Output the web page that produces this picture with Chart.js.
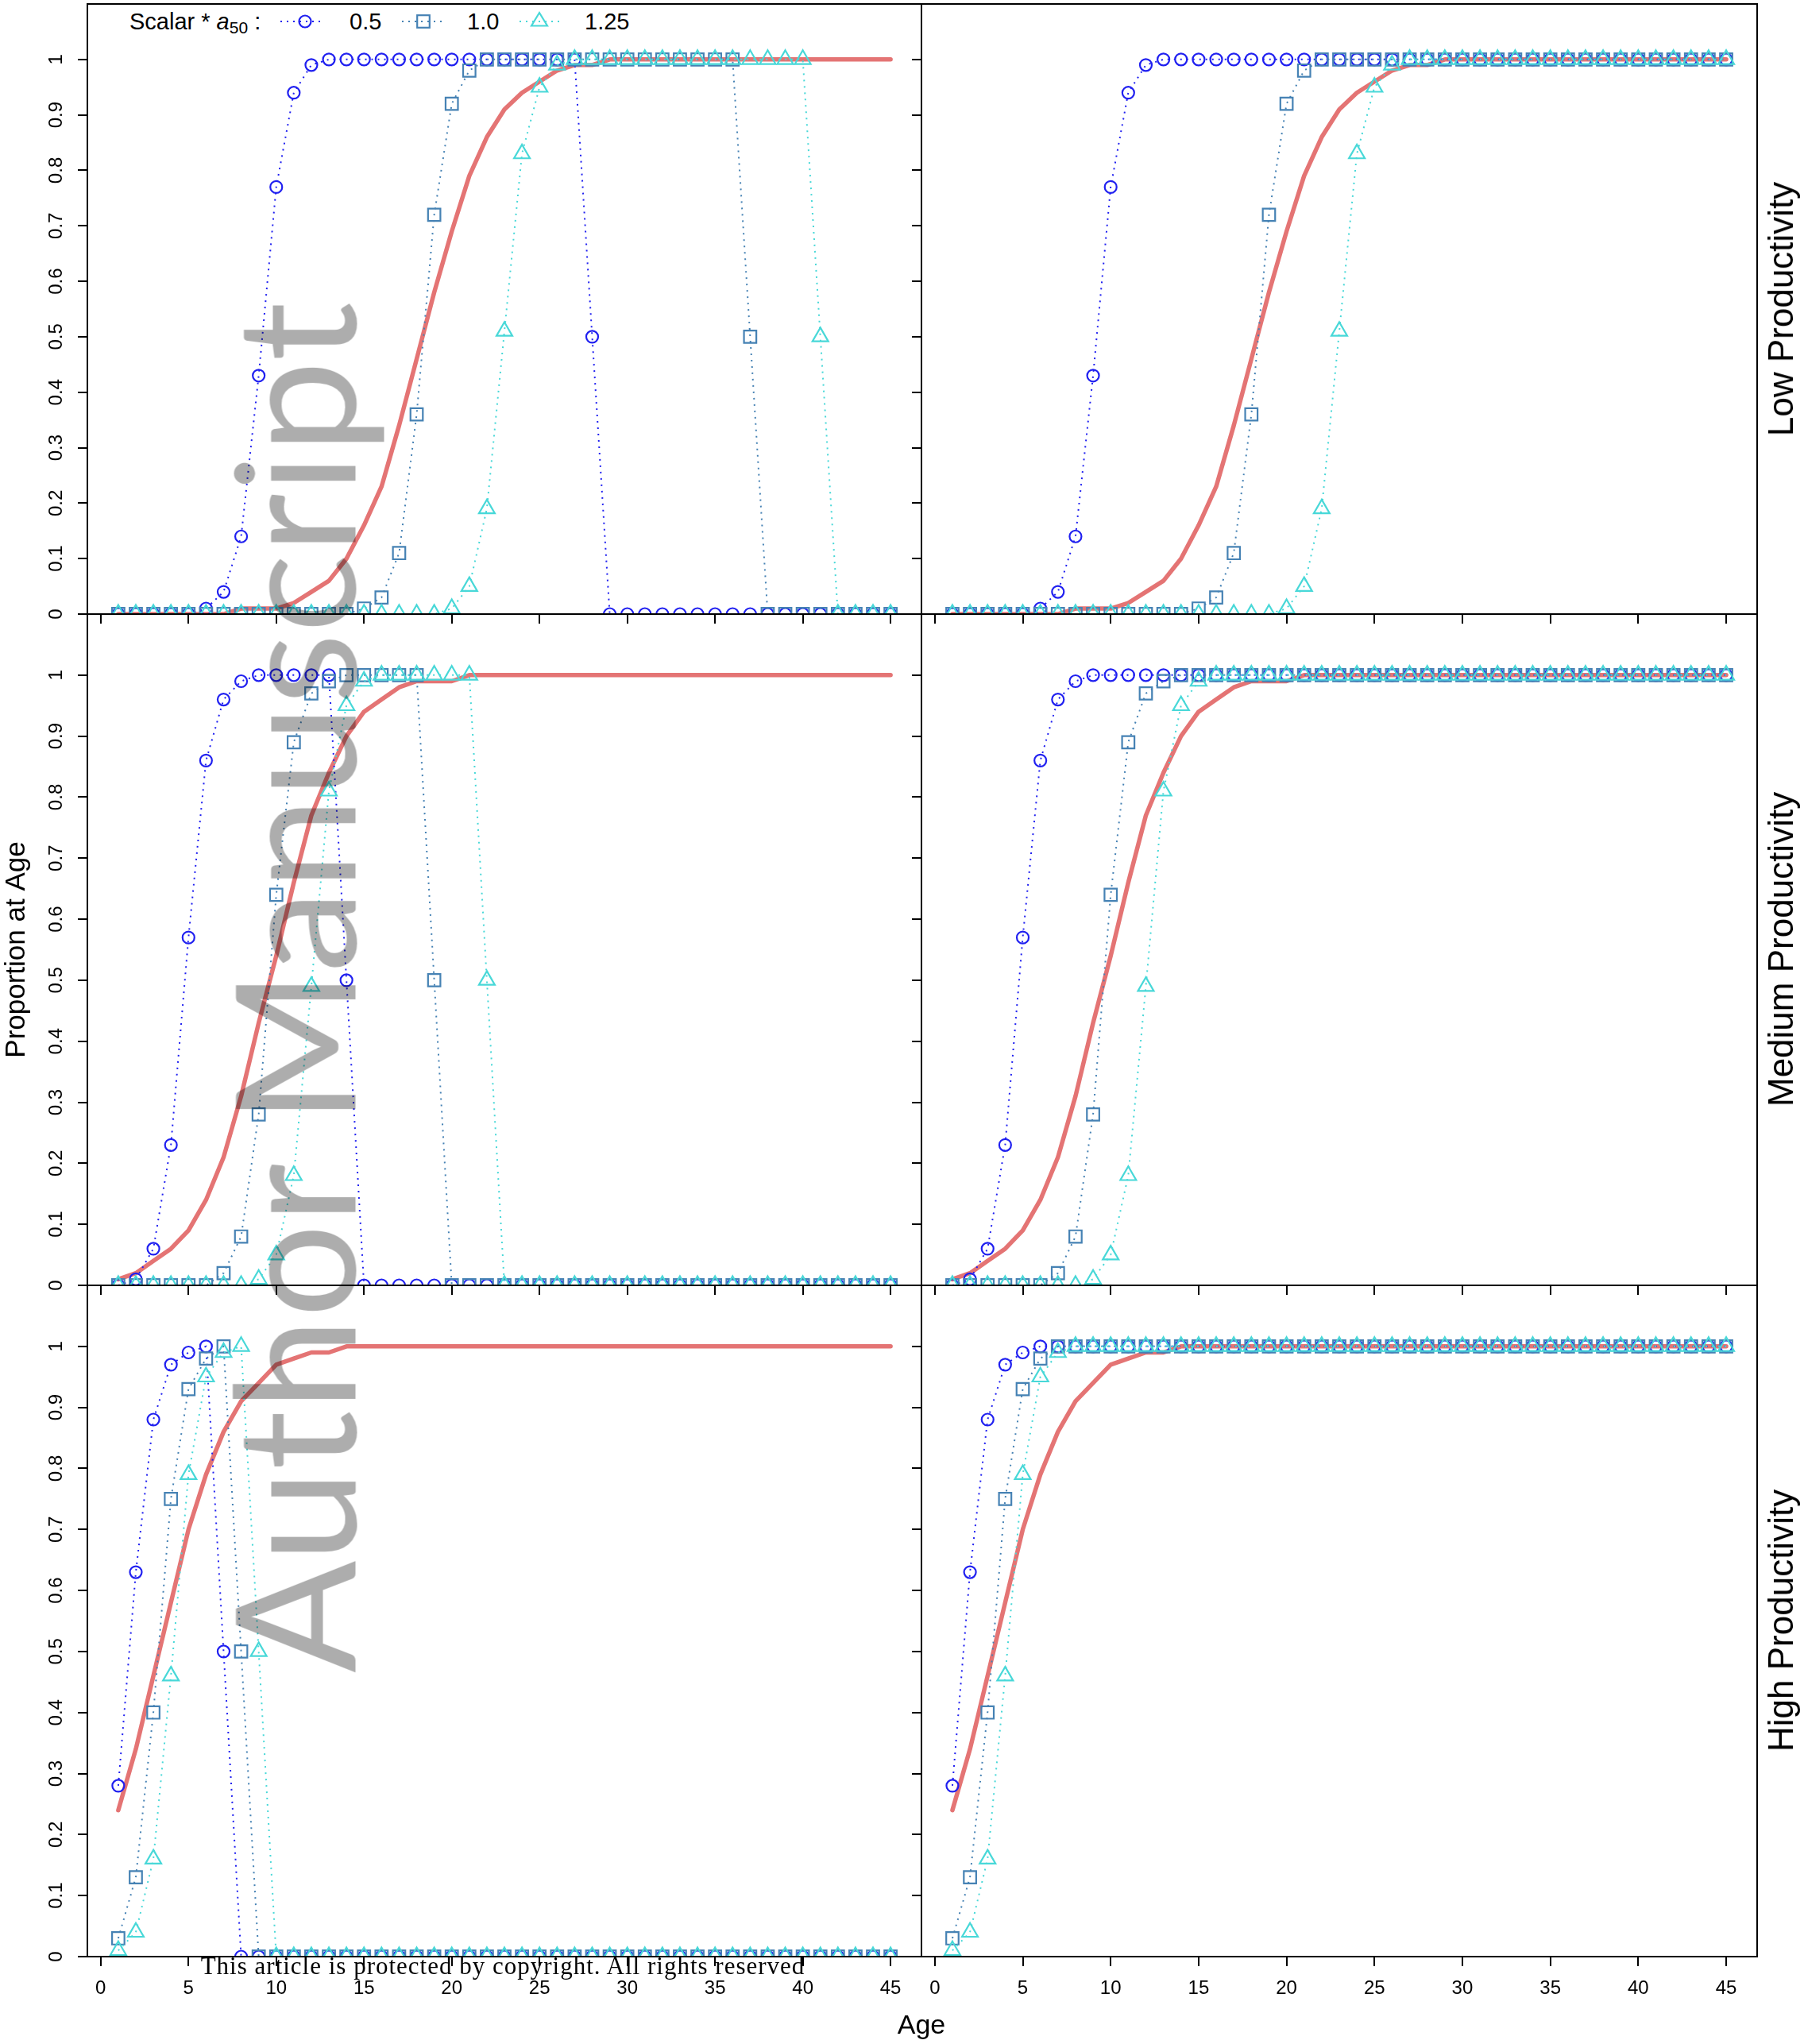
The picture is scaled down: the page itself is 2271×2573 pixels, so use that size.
<!DOCTYPE html>
<html>
<head>
<meta charset="utf-8">
<script src="https://cdn.jsdelivr.net/npm/chart.js@4.4.1/dist/chart.umd.min.js"></script>
<style>
  body { margin: 0; width: 2271px; height: 2573px; position: relative; overflow: hidden; background: #fff;
         font-family: 'Liberation Sans', Arial, sans-serif; color: #000; }
  canvas { position: absolute; }
  .txt { position: absolute; white-space: nowrap; line-height: 1; }
  .rowlab { font-size: 44px; transform: translate(-50%, -50%) rotate(-90deg); }
  .leg { font-size: 29px; top: 13px; }
</style>
</head>
<body>

<div class="txt leg" style="left:163px">Scalar * <i>a</i><span style="font-size:21px;position:relative;top:5px">50</span> :</div>
<svg style="position:absolute;left:352px;top:12px" width="58" height="30">
  <line x1="1" y1="15" x2="56" y2="15" stroke="#2020f0" stroke-width="2" stroke-dasharray="2 6"/>
  <circle cx="32" cy="15" r="7.5" fill="none" stroke="#2020f0" stroke-width="2.2"/>
</svg>
<div class="txt leg" style="left:440px">0.5</div>
<svg style="position:absolute;left:505px;top:12px" width="56" height="30">
  <line x1="1" y1="15" x2="53" y2="15" stroke="#4682b4" stroke-width="2" stroke-dasharray="2 6"/>
  <rect x="20.2" y="7.2" width="15.6" height="15.6" fill="none" stroke="#4682b4" stroke-width="2.2"/>
</svg>
<div class="txt leg" style="left:588px">1.0</div>
<svg style="position:absolute;left:653px;top:12px" width="56" height="30">
  <line x1="1" y1="15" x2="51" y2="15" stroke="#48d8d8" stroke-width="2" stroke-dasharray="2 6"/>
  <polygon points="26,4 36,20.5 16,20.5" fill="none" stroke="#48d8d8" stroke-width="2.2"/>
</svg>
<div class="txt leg" style="left:736px">1.25</div>

<script>
// ages on the x axis
var ages = [1, 2, 3, 4, 5, 6, 7, 8, 9, 10, 11, 12, 13, 14, 15, 16, 17, 18, 19, 20, 21, 22, 23,
            24, 25, 26, 27, 28, 29, 30, 31, 32, 33, 34, 35, 36, 37, 38, 39, 40, 41, 42, 43, 44, 45];
var ageTicks = [0, 5, 10, 15, 20, 25, 30, 35, 40, 45];
var propTicks = [0, 0.1, 0.2, 0.3, 0.4, 0.5, 0.6, 0.7, 0.8, 0.9, 1];
var rowNames = ['Low Productivity', 'Medium Productivity', 'High Productivity'];

// low productivity
var lowMat = [0, 0, 0, 0, 0, 0, 0, 0.01, 0.01, 0.01,
  0.02, 0.04, 0.06, 0.10, 0.16, 0.23, 0.34, 0.46, 0.58, 0.69,
  0.79, 0.86, 0.91, 0.94, 0.96, 0.98, 0.99, 0.99, 1, 1,
  1, 1, 1, 1, 1, 1, 1, 1, 1, 1,
  1, 1, 1, 1, 1];
var lowFull05 = [0, 0, 0, 0, 0, 0.01, 0.04, 0.14, 0.43, 0.77,
  0.94, 0.99, 1, 1, 1, 1, 1, 1, 1, 1,
  1, 1, 1, 1, 1, 1, 1, 1, 1, 1,
  1, 1, 1, 1, 1, 1, 1, 1, 1, 1,
  1, 1, 1, 1, 1];
var lowCut05 = [0, 0, 0, 0, 0, 0.01, 0.04, 0.14, 0.43, 0.77,
  0.94, 0.99, 1, 1, 1, 1, 1, 1, 1, 1,
  1, 1, 1, 1, 1, 1, 1, 0.5, 0, 0,
  0, 0, 0, 0, 0, 0, 0, 0, 0, 0,
  0, 0, 0, 0, 0];
var lowFull10 = [0, 0, 0, 0, 0, 0, 0, 0, 0, 0,
  0, 0, 0, 0, 0.01, 0.03, 0.11, 0.36, 0.72, 0.92,
  0.98, 1, 1, 1, 1, 1, 1, 1, 1, 1,
  1, 1, 1, 1, 1, 1, 1, 1, 1, 1,
  1, 1, 1, 1, 1];
var lowCut10 = [0, 0, 0, 0, 0, 0, 0, 0, 0, 0,
  0, 0, 0, 0, 0.01, 0.03, 0.11, 0.36, 0.72, 0.92,
  0.98, 1, 1, 1, 1, 1, 1, 1, 1, 1,
  1, 1, 1, 1, 1, 1, 0.5, 0, 0, 0,
  0, 0, 0, 0, 0];
var lowFull125 = [0, 0, 0, 0, 0, 0, 0, 0, 0, 0,
  0, 0, 0, 0, 0, 0, 0, 0, 0, 0.01,
  0.05, 0.19, 0.51, 0.83, 0.95, 0.99, 1, 1, 1, 1,
  1, 1, 1, 1, 1, 1, 1, 1, 1, 1,
  1, 1, 1, 1, 1];
var lowCut125 = [0, 0, 0, 0, 0, 0, 0, 0, 0, 0,
  0, 0, 0, 0, 0, 0, 0, 0, 0, 0.01,
  0.05, 0.19, 0.51, 0.83, 0.95, 0.99, 1, 1, 1, 1,
  1, 1, 1, 1, 1, 1, 1, 1, 1, 1,
  0.5, 0, 0, 0, 0];

// medium productivity
var medMat = [0.01, 0.02, 0.04, 0.06, 0.09, 0.14, 0.21, 0.31, 0.43, 0.54,
  0.66, 0.77, 0.84, 0.90, 0.94, 0.96, 0.98, 0.99, 0.99, 0.99,
  1, 1, 1, 1, 1, 1, 1, 1, 1, 1,
  1, 1, 1, 1, 1, 1, 1, 1, 1, 1,
  1, 1, 1, 1, 1];
var medFull05 = [0, 0.01, 0.06, 0.23, 0.57, 0.86, 0.96, 0.99, 1, 1,
  1, 1, 1, 1, 1, 1, 1, 1, 1, 1,
  1, 1, 1, 1, 1, 1, 1, 1, 1, 1,
  1, 1, 1, 1, 1, 1, 1, 1, 1, 1,
  1, 1, 1, 1, 1];
var medCut05 = [0, 0.01, 0.06, 0.23, 0.57, 0.86, 0.96, 0.99, 1, 1,
  1, 1, 1, 0.5, 0, 0, 0, 0, 0, 0,
  0, 0, 0, 0, 0, 0, 0, 0, 0, 0,
  0, 0, 0, 0, 0, 0, 0, 0, 0, 0,
  0, 0, 0, 0, 0];
var medFull10 = [0, 0, 0, 0, 0, 0, 0.02, 0.08, 0.28, 0.64,
  0.89, 0.97, 0.99, 1, 1, 1, 1, 1, 1, 1,
  1, 1, 1, 1, 1, 1, 1, 1, 1, 1,
  1, 1, 1, 1, 1, 1, 1, 1, 1, 1,
  1, 1, 1, 1, 1];
var medCut10 = [0, 0, 0, 0, 0, 0, 0.02, 0.08, 0.28, 0.64,
  0.89, 0.97, 0.99, 1, 1, 1, 1, 1, 0.5, 0,
  0, 0, 0, 0, 0, 0, 0, 0, 0, 0,
  0, 0, 0, 0, 0, 0, 0, 0, 0, 0,
  0, 0, 0, 0, 0];
var medFull125 = [0, 0, 0, 0, 0, 0, 0, 0, 0.01, 0.05,
  0.18, 0.49, 0.81, 0.95, 0.99, 1, 1, 1, 1, 1,
  1, 1, 1, 1, 1, 1, 1, 1, 1, 1,
  1, 1, 1, 1, 1, 1, 1, 1, 1, 1,
  1, 1, 1, 1, 1];
var medCut125 = [0, 0, 0, 0, 0, 0, 0, 0, 0.01, 0.05,
  0.18, 0.49, 0.81, 0.95, 0.99, 1, 1, 1, 1, 1,
  1, 0.5, 0, 0, 0, 0, 0, 0, 0, 0,
  0, 0, 0, 0, 0, 0, 0, 0, 0, 0,
  0, 0, 0, 0, 0];

// high productivity
var highMat = [0.24, 0.34, 0.46, 0.58, 0.70, 0.79, 0.86, 0.91, 0.94, 0.97,
  0.98, 0.99, 0.99, 1, 1, 1, 1, 1, 1, 1,
  1, 1, 1, 1, 1, 1, 1, 1, 1, 1,
  1, 1, 1, 1, 1, 1, 1, 1, 1, 1,
  1, 1, 1, 1, 1];
var highFull05 = [0.28, 0.63, 0.88, 0.97, 0.99, 1, 1, 1, 1, 1,
  1, 1, 1, 1, 1, 1, 1, 1, 1, 1,
  1, 1, 1, 1, 1, 1, 1, 1, 1, 1,
  1, 1, 1, 1, 1, 1, 1, 1, 1, 1,
  1, 1, 1, 1, 1];
var highCut05 = [0.28, 0.63, 0.88, 0.97, 0.99, 1, 0.5, 0, 0, 0,
  0, 0, 0, 0, 0, 0, 0, 0, 0, 0,
  0, 0, 0, 0, 0, 0, 0, 0, 0, 0,
  0, 0, 0, 0, 0, 0, 0, 0, 0, 0,
  0, 0, 0, 0, 0];
var highFull10 = [0.03, 0.13, 0.40, 0.75, 0.93, 0.98, 1, 1, 1, 1,
  1, 1, 1, 1, 1, 1, 1, 1, 1, 1,
  1, 1, 1, 1, 1, 1, 1, 1, 1, 1,
  1, 1, 1, 1, 1, 1, 1, 1, 1, 1,
  1, 1, 1, 1, 1];
var highCut10 = [0.03, 0.13, 0.40, 0.75, 0.93, 0.98, 1, 0.5, 0, 0,
  0, 0, 0, 0, 0, 0, 0, 0, 0, 0,
  0, 0, 0, 0, 0, 0, 0, 0, 0, 0,
  0, 0, 0, 0, 0, 0, 0, 0, 0, 0,
  0, 0, 0, 0, 0];
var highFull125 = [0.01, 0.04, 0.16, 0.46, 0.79, 0.95, 0.99, 1, 1, 1,
  1, 1, 1, 1, 1, 1, 1, 1, 1, 1,
  1, 1, 1, 1, 1, 1, 1, 1, 1, 1,
  1, 1, 1, 1, 1, 1, 1, 1, 1, 1,
  1, 1, 1, 1, 1];
var highCut125 = [0.01, 0.04, 0.16, 0.46, 0.79, 0.95, 0.99, 1, 0.5, 0,
  0, 0, 0, 0, 0, 0, 0, 0, 0, 0,
  0, 0, 0, 0, 0, 0, 0, 0, 0, 0,
  0, 0, 0, 0, 0, 0, 0, 0, 0, 0,
  0, 0, 0, 0, 0];

// panel edges in page pixels
var colX = [[110, 1160], [1160, 2212]];
var rowY = [[5, 773], [773, 1618], [1618, 2463]];

Chart.defaults.font.family = "'Liberation Sans', Arial, sans-serif";
Chart.defaults.color = '#000';

var boxPlugin = {
  id: 'box',
  afterDraw: function (chart) {
    var a = chart.chartArea, c = chart.ctx;
    c.save();
    c.strokeStyle = '#000';
    c.lineWidth = 2;
    c.strokeRect(a.left, a.top, a.right - a.left, a.bottom - a.top);
    c.restore();
  }
};

function pts(vals) {
  return ages.map(function (a, i) { return { x: a, y: vals[i] }; });
}

function marks(vals, color, style, radius, order) {
  return {
    data: pts(vals), borderColor: color, borderWidth: 2, borderDash: [2, 6],
    pointStyle: style, pointRadius: radius, pointBorderWidth: 2.2,
    pointBorderColor: color, pointBackgroundColor: 'rgba(0,0,0,0)',
    fill: false, tension: 0, clip: 0, order: order
  };
}

function makePanel(row, col, mat, s05, s10, s125) {
  var m = { l: col === 0 ? 110 : 40, t: 40, r: 40, b: row === 2 ? 120 : 40 };
  var x0 = colX[col][0], x1 = colX[col][1], y0 = rowY[row][0], y1 = rowY[row][1];
  var w = x1 - x0 + m.l + m.r, h = y1 - y0 + m.t + m.b;
  var cv = document.createElement('canvas');
  cv.width = w; cv.height = h;
  cv.style.left = (x0 - m.l) + 'px';
  cv.style.top = (y0 - m.t) + 'px';
  cv.style.width = w + 'px';
  cv.style.height = h + 'px';
  document.body.appendChild(cv);

  var tickGrid = { drawOnChartArea: false, drawTicks: true, tickLength: 12, color: '#000', lineWidth: 2 };

  new Chart(cv, {
    type: 'line',
    data: {
      datasets: [
        { data: pts(mat), borderColor: '#e47474', borderWidth: 5.5, pointRadius: 0,
          borderCapStyle: 'round', borderJoinStyle: 'round', fill: false, tension: 0, clip: 0, order: 4 },
        marks(s05, '#2020f0', 'circle', 7.5, 3),
        marks(s10, '#4682b4', 'rect', 11, 2),
        marks(s125, '#48d8d8', 'triangle', 11.5, 1)
      ]
    },
    options: {
      responsive: false,
      animation: false,
      devicePixelRatio: 1,
      events: [],
      layout: { padding: { left: 0, top: m.t, right: m.r, bottom: 0 } },
      plugins: { legend: { display: false }, tooltip: { enabled: false } },
      scales: {
        x: {
          type: 'linear', min: -0.76, max: 46.76,
          afterBuildTicks: function (s) { s.ticks = ageTicks.map(function (v) { return { value: v }; }); },
          afterFit: function (s) { s.height = m.b; s.paddingLeft = 0; s.paddingRight = 0; },
          grid: tickGrid,
          border: { display: false },
          ticks: { display: row === 2, autoSkip: false, maxRotation: 0, padding: 14,
                   font: { size: 24 }, callback: function (v) { return String(v); } }
        },
        y: {
          type: 'linear', min: 0, max: 1.1,
          afterBuildTicks: function (s) { s.ticks = propTicks.map(function (v) { return { value: v }; }); },
          afterFit: function (s) { s.width = m.l; s.paddingTop = 0; s.paddingBottom = 0; },
          grid: tickGrid,
          border: { display: false },
          ticks: { display: col === 0, minRotation: 90, maxRotation: 90, crossAlign: 'center',
                   padding: 10, font: { size: 24 }, callback: function (v) { return String(v); } },
          title: { display: row === 1 && col === 0, text: 'Proportion at Age',
                   font: { size: 35 }, padding: { top: 0, bottom: 0 } }
        }
      }
    },
    plugins: [boxPlugin]
  });
}

makePanel(0, 0, lowMat, lowCut05, lowCut10, lowCut125);
makePanel(0, 1, lowMat, lowFull05, lowFull10, lowFull125);
makePanel(1, 0, medMat, medCut05, medCut10, medCut125);
makePanel(1, 1, medMat, medFull05, medFull10, medFull125);
makePanel(2, 0, highMat, highCut05, highCut10, highCut125);
makePanel(2, 1, highMat, highFull05, highFull10, highFull125);

// row labels on the right
var rowMid = [389, 1195, 2040];
rowNames.forEach(function (name, i) {
  var d = document.createElement('div');
  d.className = 'txt rowlab';
  d.style.left = '2242px';
  d.style.top = rowMid[i] + 'px';
  d.textContent = name;
  document.body.appendChild(d);
});
</script>

<div class="txt" style="left:1160px;top:2531px;font-size:34px;transform:translateX(-50%)">Age</div>
<div class="txt" style="left:367px;top:1243px;font-family:Lato,'Open Sans',sans-serif;font-size:209px;color:rgba(0,0,0,0.32);transform:translate(-50%,-50%) rotate(-90deg)">Author Manuscript</div>
<div class="txt" style="left:633px;top:2459px;font-family:'Liberation Serif','DejaVu Serif',serif;font-size:31px;letter-spacing:1px;transform:translateX(-50%)">This article is protected by copyright. All rights reserved</div>
</body>
</html>
